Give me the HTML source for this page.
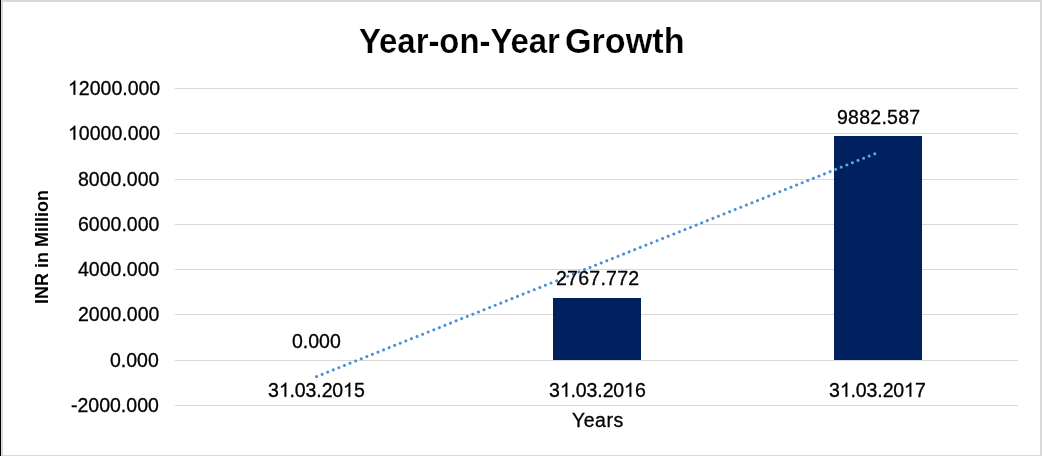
<!DOCTYPE html>
<html><head><meta charset="utf-8">
<style>
html,body{margin:0;padding:0;}
body{width:1042px;height:456px;position:relative;overflow:hidden;background:#fff;font-family:"Liberation Sans",sans-serif;color:#000;}
.t{position:absolute;white-space:nowrap;line-height:1;font-size:19.5px;-webkit-text-stroke:0.3px #000;}
.ti{position:absolute;white-space:nowrap;line-height:1;font-weight:bold;font-size:34.5px;transform-origin:0 0;-webkit-text-stroke:0.2px #fff;}
.o{position:relative;color:transparent;-webkit-text-stroke-color:transparent;}
.o svg{position:absolute;left:0;top:0;width:0.5562em;height:1.1172em;overflow:visible;}
#ytitle{position:absolute;font-weight:bold;font-size:18px;white-space:nowrap;line-height:1;transform:rotate(-90deg);transform-origin:0 0;left:33px;top:304px;}
</style></head><body>
<svg width="0" height="0" style="position:absolute"><defs><path id="one" transform="matrix(1 0 0 -1 0 1854)" d="M763 0L583 0L583 1147Q518 1085 412 1023Q306 961 222 930L222 1104Q373 1175 486 1276Q599 1377 646 1472L763 1472Z" fill="#000" stroke="#000" stroke-width="31" stroke-linejoin="miter"/></defs></svg>
<div id="w" style="position:absolute;left:0;top:0;width:1042px;height:456px;background:#fff;will-change:transform">
<svg width="1042" height="456" style="position:absolute;left:0;top:0">
  <rect x="0" y="0" width="1042" height="2" fill="#d9d9d9"/>
  <rect x="1040" y="0" width="2" height="456" fill="#d9d9d9"/>
  <rect x="0" y="455" width="1042" height="1" fill="#d9d9d9"/>
  <rect x="1" y="0" width="2" height="456" fill="#d9d9d9"/>
  <rect x="0" y="0" width="1" height="456" fill="#000"/>
  <g fill="#d9d9d9">
    <rect x="175" y="88" width="843" height="1"/>
    <rect x="175" y="133" width="843" height="1"/>
    <rect x="175" y="179" width="843" height="1"/>
    <rect x="175" y="224" width="843" height="1"/>
    <rect x="175" y="269" width="843" height="1"/>
    <rect x="175" y="314" width="843" height="1"/>
    <rect x="175" y="360" width="843" height="1"/>
    <rect x="175" y="405" width="843" height="1"/>
  </g>
  <rect x="553" y="298" width="88" height="62" fill="#002060"/>
  <rect x="834" y="136" width="88" height="224" fill="#002060"/>
  <defs><clipPath id="cb"><rect x="834" y="136" width="88" height="224"/></clipPath><clipPath id="co"><path d="M0 0H1042V456H0ZM834 136V360H922V136Z" clip-rule="evenodd"/></clipPath></defs>
  <line clip-path="url(#co)" x1="316.55" y1="376.6" x2="877.8" y2="152.6" stroke="#4a8ed5" stroke-width="3" stroke-dasharray="0.01 6" stroke-linecap="round"/>
  <line clip-path="url(#cb)" x1="316.55" y1="376.6" x2="877.8" y2="152.6" stroke="#62a3e0" stroke-width="3" stroke-dasharray="0.01 6" stroke-linecap="round"/>
</svg>
<div class="t" style="left:68px;top:79px"><span class="o">1<svg viewBox="0 0 1139 2288"><use href="#one"/></svg></span>2000.000</div>
<div class="t" style="left:68px;top:124px"><span class="o">1<svg viewBox="0 0 1139 2288"><use href="#one"/></svg></span>0000.000</div>
<div class="t" style="left:78px;top:170px">8000.000</div>
<div class="t" style="left:78px;top:215px">6000.000</div>
<div class="t" style="left:78px;top:260px">4000.000</div>
<div class="t" style="left:78px;top:305px">2000.000</div>
<div class="t" style="left:110px;top:351px">0.000</div>
<div class="t" style="left:71px;top:396px">-2000.000</div>

<div class="t" style="left:268px;top:381px;letter-spacing:-0.1px">3<span class="o">1<svg viewBox="0 0 1139 2288"><use href="#one"/></svg></span>.03.20<span class="o">1<svg viewBox="0 0 1139 2288"><use href="#one"/></svg></span>5</div>
<div class="t" style="left:549px;top:381px;letter-spacing:-0.1px">3<span class="o">1<svg viewBox="0 0 1139 2288"><use href="#one"/></svg></span>.03.20<span class="o">1<svg viewBox="0 0 1139 2288"><use href="#one"/></svg></span>6</div>
<div class="t" style="left:829px;top:381px;letter-spacing:-0.1px">3<span class="o">1<svg viewBox="0 0 1139 2288"><use href="#one"/></svg></span>.03.20<span class="o">1<svg viewBox="0 0 1139 2288"><use href="#one"/></svg></span>7</div>

<div class="t" style="left:292px;top:332px">0.000</div>
<div class="t" style="left:556px;top:269px;letter-spacing:0.25px">2767.772</div>
<div class="t" style="left:837px;top:108px;letter-spacing:0.25px">9882.587</div>

<div class="t" style="left:572px;top:411px;letter-spacing:0.5px">Years</div>
<div class="ti" style="left:359px;top:24px;transform:scaleX(0.952)">Year-on-Year</div>
<div class="ti" style="left:565px;top:24px;transform:scaleX(0.99)">Growth</div>
<div id="ytitle">INR in Million</div>
</div>
</body></html>
